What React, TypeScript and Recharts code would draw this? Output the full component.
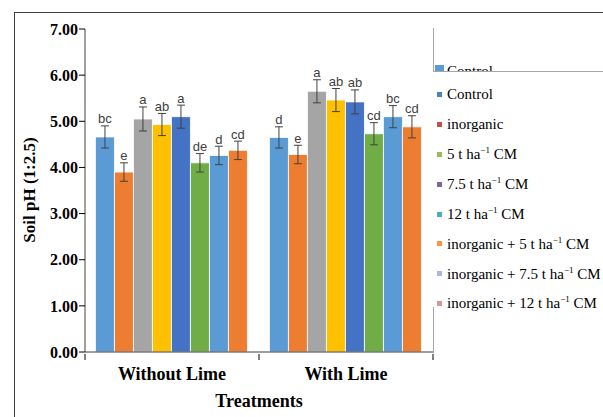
import React from 'react'
import { BarChart, Bar, XAxis, YAxis, ErrorBar, Legend } from 'recharts'

const groups = ['Without Lime', 'With Lime']
const treatments = [
  'Control',
  'inorganic',
  '5 t ha-1 CM',
  '7.5 t ha-1 CM',
  '12 t ha-1 CM',
  'inorganic + 5 t ha-1 CM',
  'inorganic + 7.5 t ha-1 CM',
  'inorganic + 12 t ha-1 CM',
]
const phWithoutLime = [4.66, 3.9, 5.05, 4.93, 5.1, 4.1, 4.26, 4.37]
const phWithLime = [4.65, 4.28, 5.65, 5.46, 5.42, 4.73, 5.1, 4.88]
const seWithoutLime = [0.24, 0.2, 0.26, 0.24, 0.25, 0.2, 0.2, 0.2]
const seWithLime = [0.23, 0.2, 0.25, 0.25, 0.26, 0.24, 0.24, 0.24]
const lettersWithoutLime = ['bc', 'e', 'a', 'ab', 'a', 'de', 'd', 'cd']
const lettersWithLime = ['d', 'e', 'a', 'ab', 'ab', 'cd', 'bc', 'cd']
const yTicks = [0, 1, 2, 3, 4, 5, 6, 7]

// bar fills (Office 2013 palette, wraps after six)
const BAR_COLORS = ['#5B9BD5', '#ED7D31', '#A5A5A5', '#FFC000', '#4472C4', '#70AD47', '#5B9BD5', '#ED7D31']
// legend swatches don't match the bars in the original figure
const LEGEND_COLORS = ['#4F81BD', '#C0504D', '#9BBB59', '#8064A2', '#4BACC6', '#F79646', '#A7B9DE', '#DA9694']

const SERIF = '"Liberation Serif", "Times New Roman", serif'
const SANS = '"Liberation Sans", Arial, sans-serif'

const means = [phWithoutLime, phWithLime]
const ses = [seWithoutLime, seWithLime]
const letters = [lettersWithoutLime, lettersWithLime]

const rows = groups.map((g, gi) => {
  const row: Record<string, any> = { group: g }
  treatments.forEach((_t, i) => {
    row['m' + i] = means[gi][i]
    row['e' + i] = ses[gi][i]
    row['l' + i] = letters[gi][i]
  })
  return row
})

const HALF_BAND = 87

const LetterLabel = (props: any, i: number) => {
  const { x, y, width, height, value, index } = props
  const row = rows[index]
  if (!row) return null
  const err = row['e' + i]
  const errPx = value ? (height * err) / value : 0
  return (
    <text
      key={`l-${i}-${index}`}
      x={x + width / 2}
      y={y - errPx - 2.5}
      textAnchor="middle"
      fontFamily={SANS}
      fontSize={13}
      fill="#404040"
    >
      {row['l' + i]}
    </text>
  )
}

const GroupTick = (props: any) => {
  const { x, y, payload, index } = props
  return (
    <g>
      <line x1={x - HALF_BAND} x2={x - HALF_BAND} y1={y} y2={y + 6} stroke="#000" />
      {index === groups.length - 1 && (
        <line x1={x + HALF_BAND} x2={x + HALF_BAND} y1={y} y2={y + 6} stroke="#000" />
      )}
      <text x={x} y={y + 26} textAnchor="middle" fontFamily={SERIF} fontWeight="bold" fontSize={18} fill="#000">
        {payload.value}
      </text>
    </g>
  )
}

const sup = (name: string) => {
  const parts = name.split('ha-1')
  if (parts.length < 2) return name
  return (
    <>
      {parts[0]}ha<sup style={{ fontSize: 9 }}>−1</sup>
      {parts[1]}
    </>
  )
}

const LegendBox = () => (
  <div style={{ position: 'absolute', left: 437, top: 80, fontFamily: SERIF, fontSize: 15, color: '#000' }}>
    {treatments.map((t, i) => (
      <div key={t} style={{ height: 29.8, display: 'flex', alignItems: 'center', whiteSpace: 'nowrap' }}>
        <span style={{ width: 5, height: 5, background: LEGEND_COLORS[i], marginRight: 5, display: 'inline-block' }} />
        <span style={{ fontFamily: SERIF }}>{sup(t)}</span>
      </div>
    ))}
  </div>
)

export default function App() {
  return (
    <div style={{ position: 'absolute', left: 0, top: 0, width: 603, height: 417, background: '#fff', overflow: 'hidden' }}>
      <BarChart
        width={603}
        height={417}
        data={rows}
        margin={{ top: 29, right: 170, bottom: 35, left: 25 }}
        barCategoryGap="6%"
        barGap={0}
      >
        <XAxis
          dataKey="group"
          tick={GroupTick}
          tickLine={false}
          tickSize={0}
          axisLine={{ stroke: '#404040' }}
          height={30}
          label={{
            content: () => (
              <text x={259} y={407} textAnchor="middle" fontFamily={SERIF} fontWeight="bold" fontSize={18} fill="#000">
                Treatments
              </text>
            ),
          }}
        />
        <YAxis
          domain={[0, 7]}
          ticks={yTicks}
          interval={0}
          width={60}
          tickFormatter={(v: number) => v.toFixed(2)}
          tick={{ fontFamily: SERIF, fontWeight: 'bold', fontSize: 16, fill: '#000' }}
          tickSize={6}
          tickMargin={1}
          tickLine={{ stroke: '#000' }}
          axisLine={{ stroke: '#404040' }}
          label={{
            content: () => (
              <text
                transform="translate(35,190) rotate(-90)"
                textAnchor="middle"
                fontFamily={SERIF}
                fontWeight="bold"
                fontSize={17}
                fill="#000"
              >
                Soil pH (1:2.5)
              </text>
            ),
          }}
        />
        <Legend content={() => null} />
        {treatments.map((t, i) => (
          <Bar
            key={t}
            dataKey={'m' + i}
            name={t}
            fill={BAR_COLORS[i]}
            stroke="#ffffff"
            strokeOpacity={0.8}
            strokeWidth={1}
            isAnimationActive={false}
            label={(p: any) => LetterLabel(p, i)}
          >
            <ErrorBar dataKey={'e' + i} width={4} stroke="#404040" strokeWidth={1} />
          </Bar>
        ))}
      </BarChart>

      {/* outer frame of the figure */}
      <div style={{ position: 'absolute', left: 14, top: 12, width: 1, height: 405, background: '#404040' }} />
      <div style={{ position: 'absolute', left: 14, top: 12, width: 589, height: 1, background: '#404040' }} />

      {/* clipped legend box */}
      <div style={{ position: 'absolute', left: 433, top: 28, width: 1, height: 43, background: '#a6a6a6' }} />
      <div style={{ position: 'absolute', left: 433, top: 71, width: 170, height: 1, background: '#a6a6a6' }} />
      <div style={{ position: 'absolute', left: 433, top: 307, width: 1, height: 46, background: '#a6a6a6' }} />
      <div style={{ position: 'absolute', left: 435, top: 64, width: 168, height: 7, overflow: 'hidden' }}>
        <div style={{ position: 'absolute', left: 0, top: 1, width: 9, height: 9, background: '#5B9BD5' }} />
        <div style={{ position: 'absolute', left: 12, top: -1, fontFamily: SERIF, fontSize: 15, lineHeight: '17px' }}>Control</div>
      </div>
      <LegendBox />
    </div>
  )
}
